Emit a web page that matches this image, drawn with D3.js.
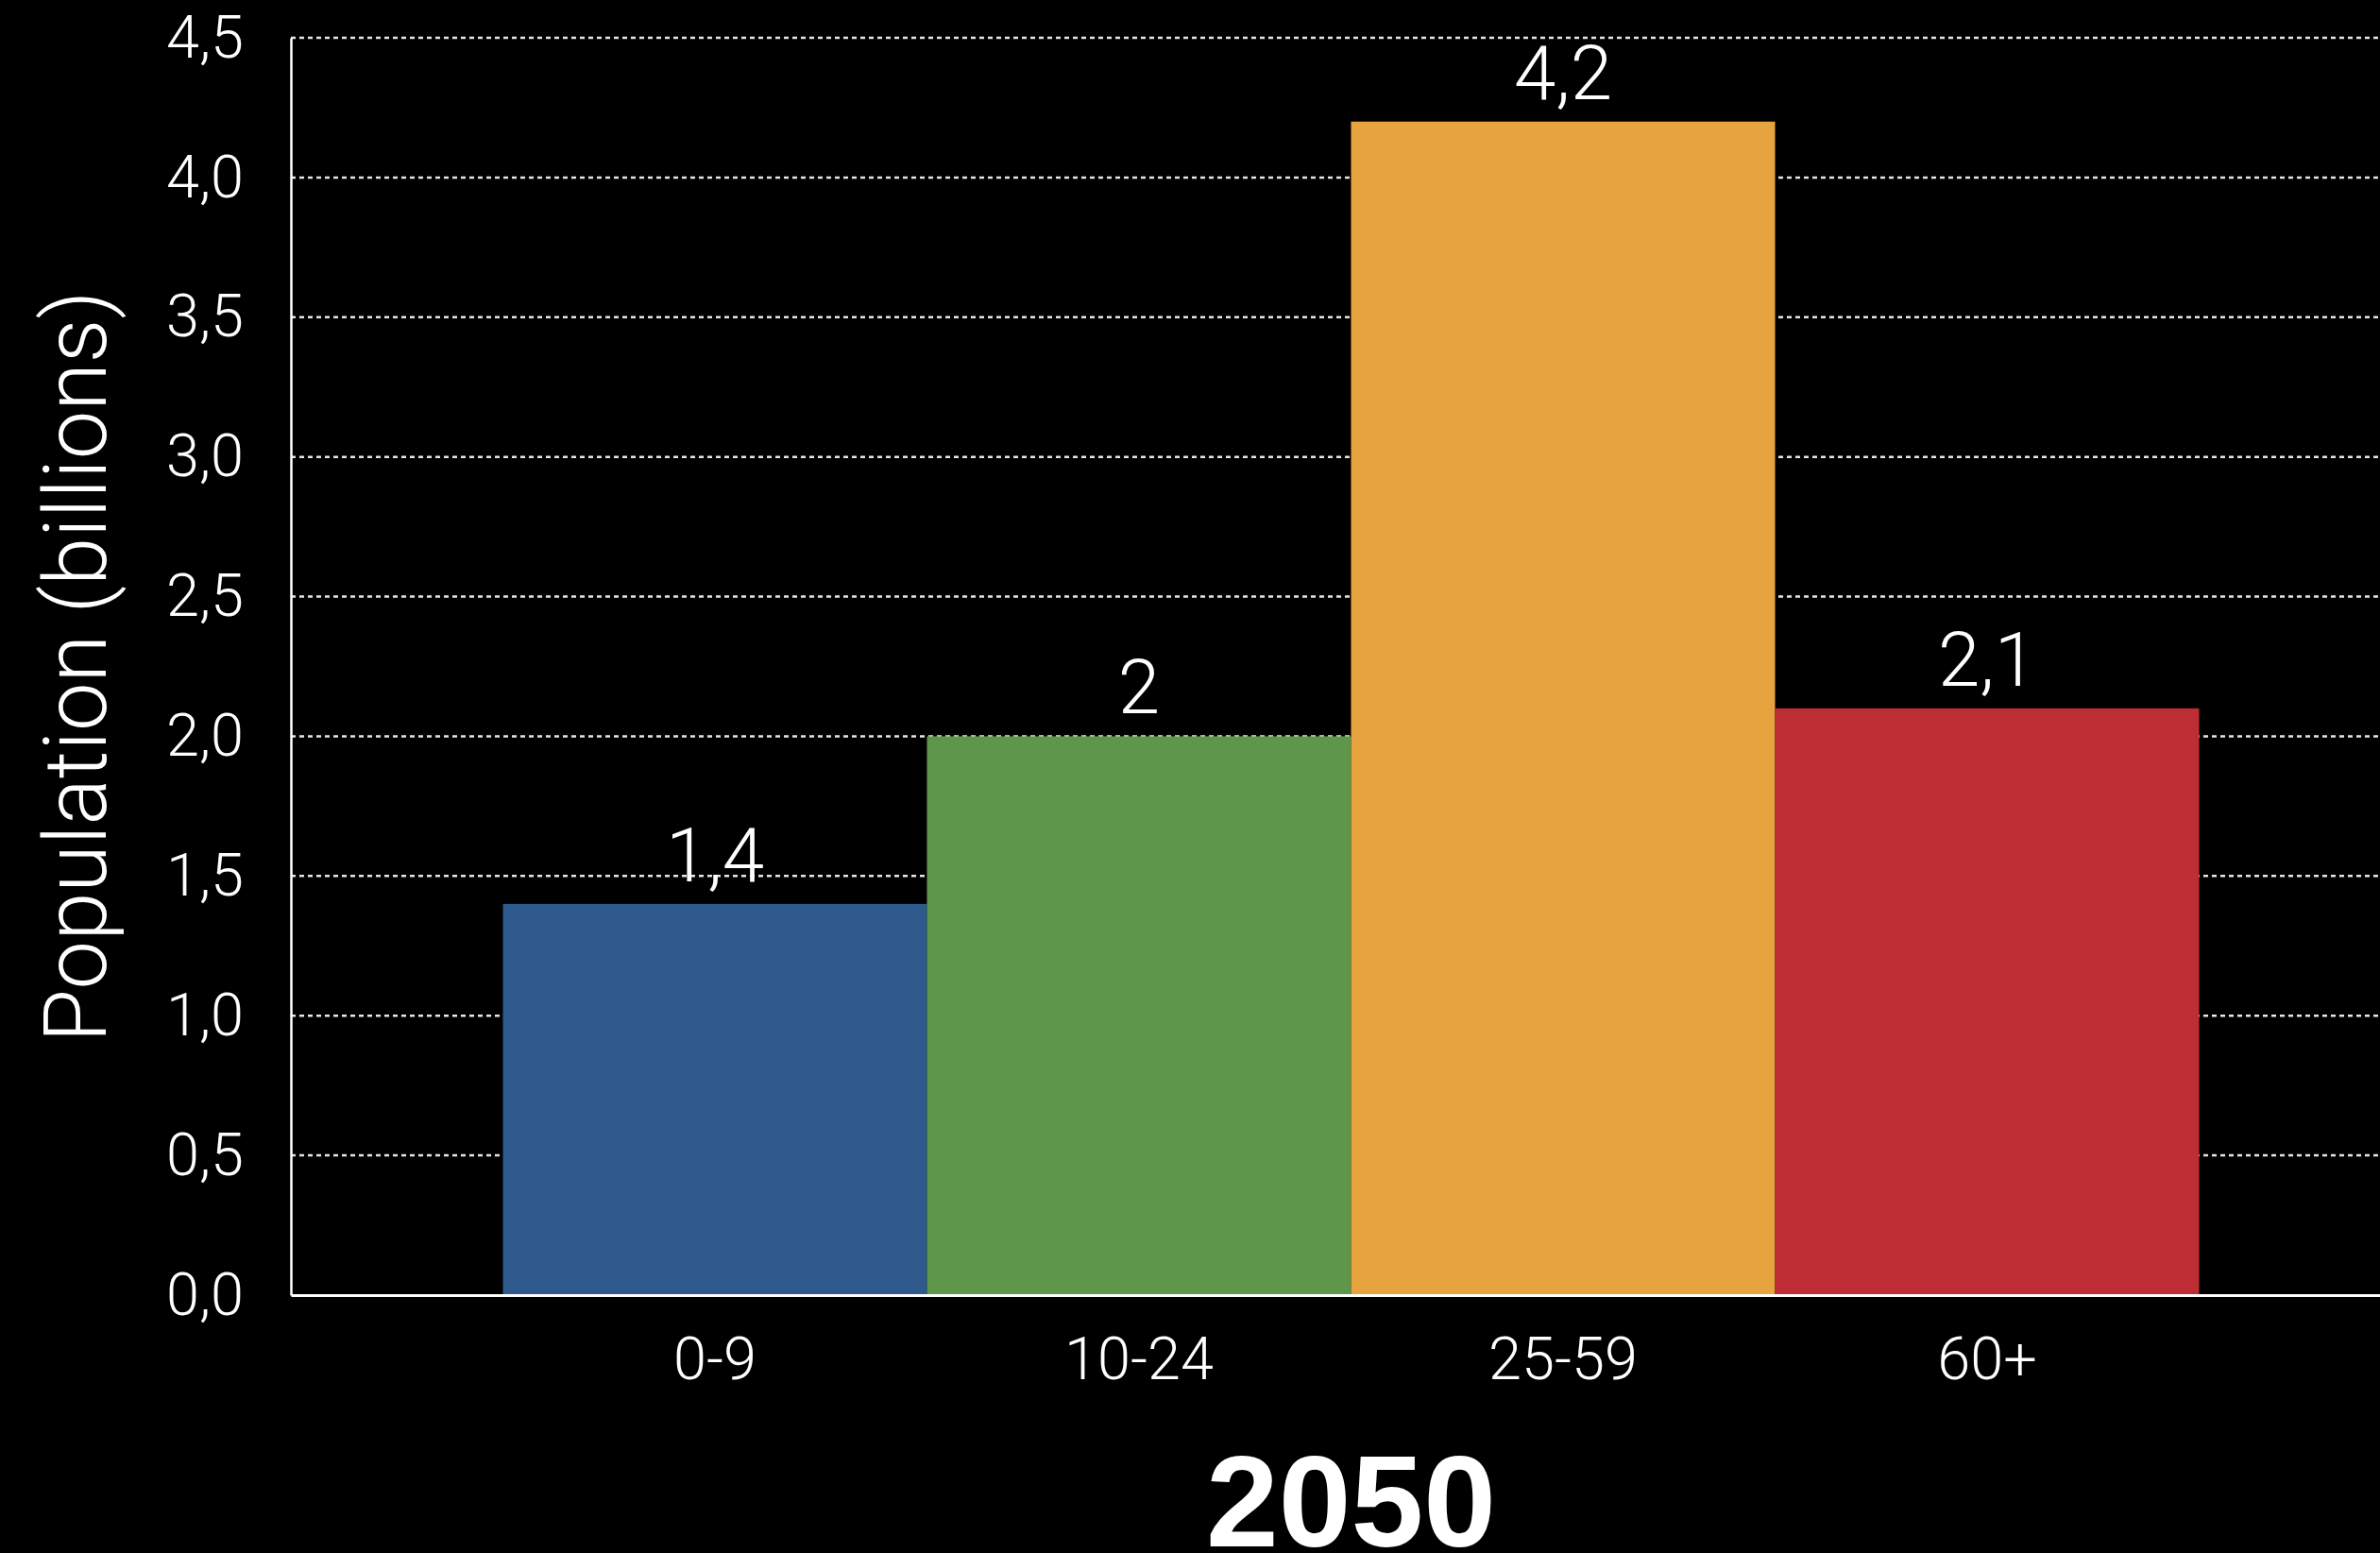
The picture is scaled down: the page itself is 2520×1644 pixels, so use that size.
<!DOCTYPE html>
<html>
<head>
<meta charset="utf-8">
<script src="https://cdn.jsdelivr.net/npm/d3@7"></script>
<style>
  html, body { margin: 0; padding: 0; background: #000; }
  svg { display: block; }
</style>
</head>
<body>
<div id="chart"></div>
<script>
// Data
const ageGroups = ["0-9", "10-24", "25-59", "60+"];
const population = [1.4, 2.0, 4.2, 2.1];
const barColors = ["#2e598c", "#5e974a", "#e7a43e", "#bd2d33"];
const yTicks = [0, 0.5, 1, 1.5, 2, 2.5, 3, 3.5, 4, 4.5];
const yearLabel = "2050";
const yTitle = "Population (billions)";

const W = 2520, H = 1644;
const plotLeft = 308, plotTop = 40, plotBottom = 1371;

// Comma decimal separator
const locale = d3.formatLocale({decimal: ",", thousands: ".", grouping: [3], currency: ["", ""]});
const tickFmt = locale.format(".1f");
const valFmt = locale.format("~g");

const svg = d3.select("#chart")
    .append("svg")
    .attr("width", W)
    .attr("height", H)
    .style("background", "#000");

// Scales
const x = d3.scaleBand()
    .domain(ageGroups)
    .range([plotLeft, 2553])
    .paddingInner(0)
    .paddingOuter(0.5);

const y = d3.scaleLinear()
    .domain([0, 4.5])
    .range([plotBottom, plotTop]);

const font = "'Roboto', 'Helvetica Neue', sans-serif";

// Dotted gridlines (behind bars)
svg.append("g")
    .selectAll("line")
    .data(yTicks.filter(d => d > 0))
    .enter()
    .append("line")
    .attr("x1", plotLeft)
    .attr("x2", W)
    .attr("y1", d => y(d))
    .attr("y2", d => y(d))
    .attr("stroke", "#e6e6e6")
    .attr("stroke-width", 2.5)
    .attr("stroke-dasharray", "5,4");

// Bars
const data = ageGroups.map((g, i) => ({group: g, value: population[i], color: barColors[i]}));

svg.selectAll(".bar")
    .data(data)
    .enter()
    .append("rect")
    .attr("class", "bar")
    .attr("x", d => x(d.group))
    .attr("width", x.bandwidth())
    .attr("y", d => y(d.value))
    .attr("height", d => y(0) - y(d.value))
    .attr("fill", d => d.color);

// Value labels
svg.selectAll(".val")
    .data(data)
    .enter()
    .append("text")
    .attr("class", "val")
    .attr("x", d => x(d.group) + x.bandwidth() / 2)
    .attr("y", d => y(d.value) - 24)
    .attr("text-anchor", "middle")
    .attr("fill", "#fff")
    .style("font-family", font)
    .style("font-weight", 300)
    .style("font-size", "80px")
    .text(d => valFmt(d.value));

// Y axis
const yAxis = svg.append("g")
    .attr("transform", `translate(${plotLeft},0)`)
    .call(d3.axisLeft(y).tickValues(yTicks).tickFormat(tickFmt).tickSize(0).tickPadding(50));

yAxis.select(".domain").attr("stroke", "#fff").attr("stroke-width", 2.5);
yAxis.selectAll("text")
    .attr("fill", "#fff")
    .style("font-family", font)
    .style("font-weight", 300)
    .style("font-size", "63px");

// X axis
const xAxis = svg.append("g")
    .attr("transform", `translate(0,${plotBottom})`)
    .call(d3.axisBottom(x).tickSize(0).tickPadding(44));

xAxis.select(".domain").attr("stroke", "#fff").attr("stroke-width", 3);
xAxis.selectAll("text")
    .attr("fill", "#fff")
    .style("font-family", font)
    .style("font-weight", 300)
    .style("font-size", "63px");

// Y axis title
svg.append("text")
    .attr("transform", `translate(80,${(plotTop + plotBottom) / 2}) rotate(-90)`)
    .attr("text-anchor", "middle")
    .attr("dominant-baseline", "central")
    .attr("fill", "#fff")
    .style("font-family", font)
    .style("font-weight", 300)
    .style("font-size", "92px")
    .text(yTitle);

// Year label
svg.append("text")
    .attr("x", (x.range()[0] + x.range()[1]) / 2)
    .attr("y", 1637)
    .attr("text-anchor", "middle")
    .attr("fill", "#fff")
    .style("font-family", "'Liberation Sans', Arial, sans-serif")
    .style("font-weight", 700)
    .style("font-size", "138px")
    .text(yearLabel);
</script>
</body>
</html>
